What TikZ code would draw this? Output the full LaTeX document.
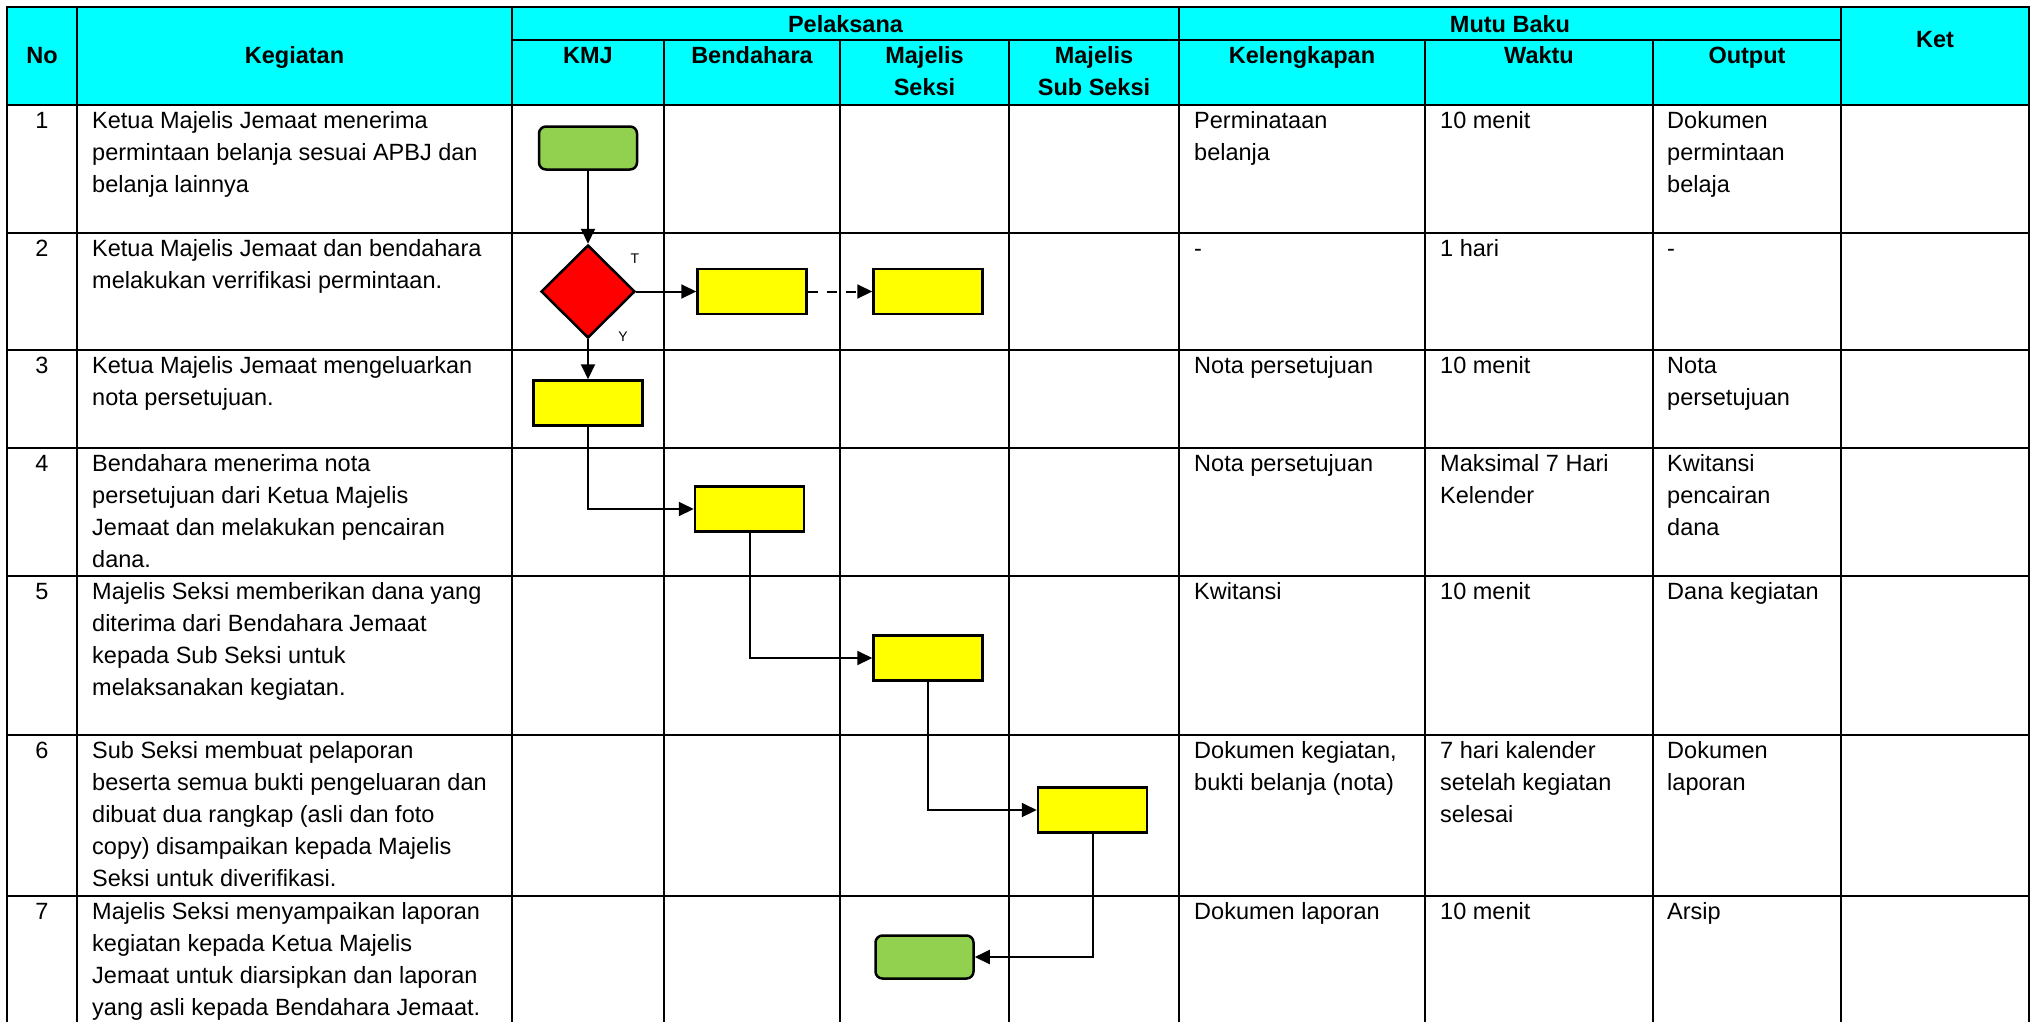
\documentclass[tikz,border=0pt]{standalone}
\usepackage{fontspec}
\setmainfont{Liberation Sans}
\usetikzlibrary{arrows.meta,shapes.geometric}

\definecolor{toska}{RGB}{0,255,255}
\definecolor{kuning}{RGB}{255,255,0}
\definecolor{hijau}{RGB}{146,208,80}

% isi sel: baris pertama jadi garis dasar node
\newcommand{\isikiri}[1]{\begin{tabular}[t]{@{}l@{}}#1\end{tabular}}
\newcommand{\isitengah}[1]{\begin{tabular}[t]{@{}c@{}}#1\end{tabular}}

\begin{document}
\begin{tikzpicture}[x=1pt,y=-1pt,
	garis/.style={line width=2.2pt,line cap=rect},
	teks/.style={anchor=base west,inner sep=0pt,font=\fontsize{23.5}{32}\selectfont},
	judul/.style={anchor=base,inner sep=0pt,font=\fontsize{23.5}{32}\selectfont\bfseries},
	proses/.style={draw,line width=2.5pt,fill=kuning,minimum width=109pt,minimum height=45pt,inner sep=0pt},
	mulai/.style={proses,fill=hijau,rounded corners=7pt,minimum width=98pt,minimum height=43pt},
	keputusan/.style={diamond,draw,line width=2.5pt,fill=red,minimum width=94pt,minimum height=93pt,inner sep=0pt},
	panah/.style={line width=2pt,-{Triangle[length=15pt,width=14pt]}}]
	\useasboundingbox (0,0) rectangle (2033,1021);
	
	% kepala tabel
	\fill[toska] (7,7) rectangle (2029,105);
	\foreach \x in {7,77,512,1179,1841,2029}
	\draw[garis] (\x,7) -- (\x,1021);
	\foreach \x in {664,840,1009,1425,1653}
	\draw[garis] (\x,40) -- (\x,1021);
	\draw[garis] (512,40) -- (1841,40);
	\foreach \y in {7,105,233,350,448,576,735,896}
	\draw[garis] (7,\y) -- (2029,\y);
	
	\node[judul] (hNo) at (42,63) {No};
	\node[judul] (hKeg) at (294.5,63) {Kegiatan};
	\node[judul] (hPel) at (845.5,32) {Pelaksana};
	\node[judul] (hMutu) at (1510,32) {Mutu Baku};
	\node[judul] (hKet) at (1935,47) {Ket};
	\foreach \x/\nama/\isi in {588/kmj/KMJ, 752/bdh/Bendahara, 924.5/ms/{Majelis\\Seksi}, 1094/ss/{Majelis\\Sub Seksi}, 1302/kel/Kelengkapan, 1539/wkt/Waktu, 1747/out/Output}
	\node[judul] (h\nama) at (\x,63) {\isitengah{\isi}};
	
	% kegiatan
	\foreach \n/\y/\keg in {
		1/128.5/{Ketua Majelis Jemaat menerima\\permintaan belanja sesuai APBJ dan\\belanja lainnya},
		2/256.5/{Ketua Majelis Jemaat dan bendahara\\melakukan verrifikasi permintaan.},
		3/373.5/{Ketua Majelis Jemaat mengeluarkan\\nota persetujuan.},
		4/471.5/{Bendahara menerima nota\\persetujuan dari Ketua Majelis\\Jemaat dan melakukan pencairan\\dana.},
		5/599.5/{Majelis Seksi memberikan dana yang\\diterima dari Bendahara Jemaat\\kepada Sub Seksi untuk\\melaksanakan kegiatan.},
		6/758.5/{Sub Seksi membuat pelaporan\\beserta semua bukti pengeluaran dan\\dibuat dua rangkap (asli dan foto\\copy) disampaikan kepada Majelis\\Seksi untuk diverifikasi.},
		7/919.5/{Majelis Seksi menyampaikan laporan\\kegiatan kepada Ketua Majelis\\Jemaat untuk diarsipkan dan laporan\\yang asli kepada Bendahara Jemaat.}}
	{
		\node[teks,anchor=base] (no\n) at (42,\y) {\n};
		\node[teks] (keg\n) at (92,\y) {\isikiri{\keg}};
	}
	
	% mutu baku
	\foreach \n/\y/\kel/\wkt/\out in {
		1/128.5/{Perminataan\\belanja}/{10 menit}/{Dokumen\\permintaan\\belaja},
		2/256.5/{-}/{1 hari}/{-},
		3/373.5/{Nota persetujuan}/{10 menit}/{Nota\\persetujuan},
		4/471.5/{Nota persetujuan}/{Maksimal 7 Hari\\Kelender}/{Kwitansi\\pencairan\\dana},
		5/599.5/{Kwitansi}/{10 menit}/{Dana kegiatan},
		6/758.5/{Dokumen kegiatan,\\bukti belanja (nota)}/{7 hari kalender\\setelah kegiatan\\selesai}/{Dokumen\\laporan},
		7/919.5/{Dokumen laporan}/{10 menit}/{Arsip}}
	{
		\node[teks] (kel\n) at (1194,\y) {\isikiri{\kel}};
		\node[teks] (wkt\n) at (1440,\y) {\isikiri{\wkt}};
		\node[teks] (out\n) at (1667,\y) {\isikiri{\out}};
	}
	
	% alur
	\node[mulai] (awal) at (588,148) {};
	\node[keputusan] (cek) at (588,291.5) {};
	\node[proses] (bdh2) at (752,291.5) {};
	\node[proses] (ms2) at (928,291.5) {};
	\node[proses] (kmj3) at (588,403) {};
	\node[proses] (bdh4) at (749.5,509) {};
	\node[proses] (ms5) at (928,658) {};
	\node[proses] (ss6) at (1092.5,810) {};
	\node[mulai] (akhir) at (924.5,957) {};
	\node[font=\fontsize{14}{14}\selectfont] (lblT) at (635,259) {T};
	\node[font=\fontsize{14}{14}\selectfont] (lblY) at (623,337) {Y};
	
	\draw[panah] (awal) -- (cek);
	\draw[panah] (cek) -- (bdh2);
	\draw[panah,dash pattern=on 10pt off 9pt] (bdh2) -- (ms2);
	\draw[panah] (cek) -- (kmj3);
	\draw[panah] (kmj3) |- (bdh4);
	\draw[panah] (bdh4) |- (ms5);
	\draw[panah] (ms5) |- (ss6);
	\draw[panah] (ss6) |- (akhir);
\end{tikzpicture}
\end{document}
